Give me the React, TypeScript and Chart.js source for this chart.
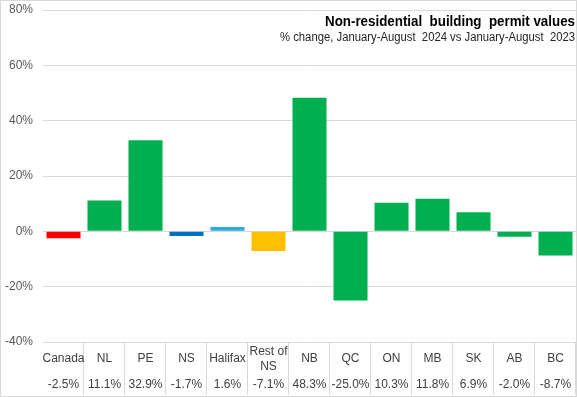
import React, { useEffect, useRef } from "react";
import { Chart, registerables } from "chart.js";

Chart.register(...registerables);

const categories: string[][] = [["Canada"], ["NL"], ["PE"], ["NS"], ["Halifax"], ["Rest of", "NS"], ["NB"], ["QC"], ["ON"], ["MB"], ["SK"], ["AB"], ["BC"]];
const values: number[] = [-2.5, 11.1, 32.9, -1.7, 1.6, -7.1, 48.3, -25.0, 10.3, 11.8, 6.9, -2.0, -8.7];
const valueLabels: string[] = ["-2.5%", "11.1%", "32.9%", "-1.7%", "1.6%", "-7.1%", "48.3%", "-25.0%", "10.3%", "11.8%", "6.9%", "-2.0%", "-8.7%"];
const barColors: string[] = ["#FF0000", "#00B050", "#00B050", "#0070C0", "#29ABE2", "#FFC000", "#00B050", "#00B050", "#00B050", "#00B050", "#00B050", "#00B050", "#00B050"];
const titleText = "Non-residential  building  permit values";
const subtitleText = "% change, January-August  2024 vs January-August  2023";
const yMin = -40;
const yMax = 80;
const yStep = 20;

const FONT = "'Liberation Sans', Arial, sans-serif";

function drawFitted(ctx: CanvasRenderingContext2D, text: string, xRight: number, y: number, font: string, target: number) {
  ctx.save();
  ctx.font = font;
  const w = ctx.measureText(text).width;
  const s = Math.min(1, target / w);
  ctx.translate(xRight, y);
  ctx.scale(s, 1);
  ctx.textAlign = "right";
  ctx.textBaseline = "alphabetic";
  ctx.fillText(text, 0, 0);
  ctx.restore();
}

const tablePlugin = {
  id: "tablePlugin",
  afterDraw(chart: any) {
    const ctx: CanvasRenderingContext2D = chart.ctx;
    const xs = chart.scales.x;
    const area = chart.chartArea;
    const n = categories.length;
    const step = (area.right - area.left) / n;
    ctx.save();
    // table vertical lines
    ctx.strokeStyle = "#d9d9d9";
    ctx.lineWidth = 1;
    for (let i = 1; i <= n; i++) {
      const x = Math.round(area.left + i * step) - 0.5;
      ctx.beginPath();
      ctx.moveTo(x, area.bottom);
      ctx.lineTo(x, area.bottom + 53);
      ctx.stroke();
    }
    // labels
    ctx.fillStyle = "#404040";
    ctx.font = `12px ${FONT}`;
    ctx.textAlign = "center";
    ctx.textBaseline = "middle";
    for (let i = 0; i < n; i++) {
      const cx = xs.getPixelForValue(i);
      const lines = categories[i];
      if (lines.length === 1) {
        ctx.fillText(lines[0], cx, area.bottom + 17);
      } else {
        ctx.fillText(lines[0], cx, area.bottom + 10);
        ctx.fillText(lines[1], cx, area.bottom + 25);
      }
      ctx.fillText(valueLabels[i], cx, area.bottom + 43);
    }
    // titles
    ctx.fillStyle = "#000000";
    drawFitted(ctx, titleText, 575, 26, `bold 15px ${FONT}`, 250);
    ctx.fillStyle = "#262626";
    drawFitted(ctx, subtitleText, 575, 41, `12.5px ${FONT}`, 295);
    // outer border
    ctx.strokeStyle = "#d9d9d9";
    ctx.strokeRect(0.5, 0.5, chart.width - 1, chart.height - 1);
    ctx.restore();
  },
};

export default function App() {
  const ref = useRef<HTMLCanvasElement>(null);
  useEffect(() => {
    if (!ref.current) return;
    const chart = new Chart(ref.current, {
      type: "bar",
      data: {
        labels: categories.map((c) => c.join(" ")),
        datasets: [
          {
            data: values,
            backgroundColor: barColors,
            barPercentage: 0.83,
            categoryPercentage: 1,
          },
        ],
      },
      options: {
        animation: false,
        responsive: false,
        maintainAspectRatio: false,
        layout: { padding: { top: 10, right: 1, bottom: 0, left: 0 } },
        plugins: { legend: { display: false }, tooltip: { enabled: false }, title: { display: false } },
        scales: {
          x: {
            ticks: { display: false },
            grid: { display: false },
            border: { display: false },
            afterFit: (s: any) => {
              s.height = 55;
              s.paddingLeft = 0;
              s.paddingRight = 0;
            },
          },
          y: {
            min: yMin,
            max: yMax,
            ticks: {
              stepSize: yStep,
              callback: (v: any) => `${v}%`,
              color: "#595959",
              font: { size: 12, family: FONT },
              padding: 10,
            },
            grid: { color: "#d9d9d9", drawTicks: false },
            border: { display: false },
            afterFit: (s: any) => {
              s.width = 43;
              s.paddingTop = 0;
              s.paddingBottom = 0;
            },
          },
        },
      },
      plugins: [tablePlugin],
    });
    return () => chart.destroy();
  }, []);
  return (
    <div style={{ position: "fixed", left: 0, top: 0, width: 577, height: 397, background: "#fff" }}>
      <canvas ref={ref} width={577} height={397} style={{ display: "block" }} />
    </div>
  );
}
